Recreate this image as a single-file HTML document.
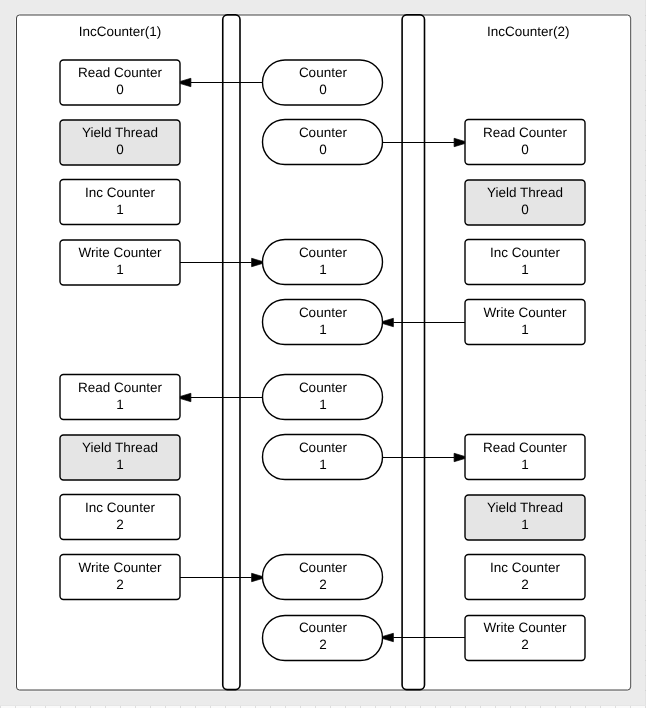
<!DOCTYPE html>
<html><head><meta charset="utf-8"><style>
html,body{margin:0;padding:0;background:#ebebeb;}
body{width:646px;height:708px;overflow:hidden;}
svg{display:block;will-change:transform;}
text{text-rendering:geometricPrecision;font-family:"Liberation Sans",sans-serif;font-size:13.5px;fill:#000000;}
</style></head><body>
<svg width="646" height="708" viewBox="0 0 646 708">
<rect x="0" y="0" width="646" height="708" fill="#ebebeb"/>
<rect x="0" y="705" width="646" height="1" fill="#e6e6e6"/><rect x="0" y="706" width="646" height="2" fill="#fafafa"/>
<path d="M0.5 706v2M15.5 706v2M30.5 706v2M45.5 706v2M60.5 706v2M75.5 706v2M90.5 706v2M105.5 706v2M120.5 706v2M135.5 706v2M150.5 706v2M165.5 706v2M180.5 706v2M195.5 706v2M210.5 706v2M225.5 706v2M240.5 706v2M255.5 706v2M270.5 706v2M285.5 706v2M300.5 706v2M315.5 706v2M330.5 706v2M345.5 706v2M360.5 706v2M375.5 706v2M390.5 706v2M405.5 706v2M420.5 706v2M435.5 706v2M450.5 706v2M465.5 706v2M480.5 706v2M495.5 706v2M510.5 706v2M525.5 706v2M540.5 706v2M555.5 706v2M570.5 706v2M585.5 706v2M600.5 706v2M615.5 706v2M630.5 706v2M645.5 706v2" stroke="#dedede" stroke-width="1"/>
<rect x="645" y="0" width="1" height="705" fill="#e3e3e3"/>
<path d="M645 15.5h1M645 30.5h1M645 45.5h1M645 60.5h1M645 75.5h1M645 90.5h1M645 105.5h1M645 120.5h1M645 135.5h1M645 150.5h1M645 165.5h1M645 180.5h1M645 195.5h1M645 210.5h1M645 225.5h1M645 240.5h1M645 255.5h1M645 270.5h1M645 285.5h1M645 300.5h1M645 315.5h1M645 330.5h1M645 345.5h1M645 360.5h1M645 375.5h1M645 390.5h1M645 405.5h1M645 420.5h1M645 435.5h1M645 450.5h1M645 465.5h1M645 480.5h1M645 495.5h1M645 510.5h1M645 525.5h1M645 540.5h1M645 555.5h1M645 570.5h1M645 585.5h1M645 600.5h1M645 615.5h1M645 630.5h1M645 645.5h1M645 660.5h1M645 675.5h1M645 690.5h1" stroke="#d2d2d2" stroke-width="1"/>
<rect x="16.5" y="15" width="614" height="675" rx="3" fill="#fff" stroke="#444" stroke-width="1"/>
<rect x="15" y="18" width="1" height="669" fill="#f4f4f4"/>
<rect x="19" y="13" width="609" height="1" fill="#f0f0f0"/>
<rect x="19" y="691" width="609" height="1" fill="#f0f0f0"/>
<rect x="630" y="18" width="1" height="669" fill="#6a6a6a"/>
<rect x="631" y="18" width="1" height="669" fill="#d2d2d2"/>
<rect x="632" y="18" width="1" height="669" fill="#eeeeee"/>
<rect x="222.75" y="14.9" width="17.25" height="674.7" rx="4.5" fill="#fff" stroke="#000" stroke-width="1.6"/>
<rect x="402.1" y="14.9" width="22.4" height="674.7" rx="4.5" fill="#fff" stroke="#000" stroke-width="1.6"/>
<text x="120.00" y="35.90" text-anchor="middle">IncCounter(1)</text>
<text x="528.30" y="35.90" text-anchor="middle">IncCounter(2)</text>
<rect x="60.0" y="60.0" width="120.0" height="45" rx="3.5" fill="#fff" stroke="#000" stroke-width="1.4"/><text x="120.00" y="76.70" text-anchor="middle">Read Counter</text><text x="120.00" y="93.80" text-anchor="middle">0</text>
<rect x="60.0" y="120.0" width="120.0" height="45" rx="3.5" fill="#e5e5e5" stroke="#000" stroke-width="1.4"/><text x="120.00" y="136.70" text-anchor="middle">Yield Thread</text><text x="120.00" y="153.80" text-anchor="middle">0</text>
<rect x="60.0" y="179.5" width="120.0" height="45" rx="3.5" fill="#fff" stroke="#000" stroke-width="1.4"/><text x="120.00" y="196.70" text-anchor="middle">Inc Counter</text><text x="120.00" y="213.80" text-anchor="middle">1</text>
<rect x="60.0" y="240.0" width="120.0" height="45" rx="3.5" fill="#fff" stroke="#000" stroke-width="1.4"/><text x="120.00" y="256.70" text-anchor="middle">Write Counter</text><text x="120.00" y="273.80" text-anchor="middle">1</text>
<rect x="60.0" y="374.5" width="120.0" height="45" rx="3.5" fill="#fff" stroke="#000" stroke-width="1.4"/><text x="120.00" y="391.70" text-anchor="middle">Read Counter</text><text x="120.00" y="408.80" text-anchor="middle">1</text>
<rect x="60.0" y="435.0" width="120.0" height="45" rx="3.5" fill="#e5e5e5" stroke="#000" stroke-width="1.4"/><text x="120.00" y="451.70" text-anchor="middle">Yield Thread</text><text x="120.00" y="468.80" text-anchor="middle">1</text>
<rect x="60.0" y="494.5" width="120.0" height="45" rx="3.5" fill="#fff" stroke="#000" stroke-width="1.4"/><text x="120.00" y="511.70" text-anchor="middle">Inc Counter</text><text x="120.00" y="528.80" text-anchor="middle">2</text>
<rect x="60.0" y="554.5" width="120.0" height="45" rx="3.5" fill="#fff" stroke="#000" stroke-width="1.4"/><text x="120.00" y="571.70" text-anchor="middle">Write Counter</text><text x="120.00" y="588.80" text-anchor="middle">2</text>
<rect x="465.0" y="119.5" width="120.0" height="45" rx="3.5" fill="#fff" stroke="#000" stroke-width="1.4"/><text x="525.00" y="136.70" text-anchor="middle">Read Counter</text><text x="525.00" y="153.80" text-anchor="middle">0</text>
<rect x="465.0" y="180.0" width="120.0" height="45" rx="3.5" fill="#e5e5e5" stroke="#000" stroke-width="1.4"/><text x="525.00" y="196.70" text-anchor="middle">Yield Thread</text><text x="525.00" y="213.80" text-anchor="middle">0</text>
<rect x="465.0" y="239.5" width="120.0" height="45" rx="3.5" fill="#fff" stroke="#000" stroke-width="1.4"/><text x="525.00" y="256.70" text-anchor="middle">Inc Counter</text><text x="525.00" y="273.80" text-anchor="middle">1</text>
<rect x="465.0" y="299.5" width="120.0" height="45" rx="3.5" fill="#fff" stroke="#000" stroke-width="1.4"/><text x="525.00" y="316.70" text-anchor="middle">Write Counter</text><text x="525.00" y="333.80" text-anchor="middle">1</text>
<rect x="465.0" y="434.5" width="120.0" height="45" rx="3.5" fill="#fff" stroke="#000" stroke-width="1.4"/><text x="525.00" y="451.70" text-anchor="middle">Read Counter</text><text x="525.00" y="468.80" text-anchor="middle">1</text>
<rect x="465.0" y="495.0" width="120.0" height="45" rx="3.5" fill="#e5e5e5" stroke="#000" stroke-width="1.4"/><text x="525.00" y="511.70" text-anchor="middle">Yield Thread</text><text x="525.00" y="528.80" text-anchor="middle">1</text>
<rect x="465.0" y="554.5" width="120.0" height="45" rx="3.5" fill="#fff" stroke="#000" stroke-width="1.4"/><text x="525.00" y="571.70" text-anchor="middle">Inc Counter</text><text x="525.00" y="588.80" text-anchor="middle">2</text>
<rect x="465.0" y="615.5" width="120.0" height="45" rx="3.5" fill="#fff" stroke="#000" stroke-width="1.4"/><text x="525.00" y="631.70" text-anchor="middle">Write Counter</text><text x="525.00" y="648.80" text-anchor="middle">2</text>
<rect x="262.5" y="60.0" width="120.0" height="45" rx="22.50" fill="#fff" stroke="#000" stroke-width="1.4"/><text x="322.90" y="76.70" text-anchor="middle">Counter</text><text x="322.90" y="93.80" text-anchor="middle">0</text>
<rect x="262.5" y="119.5" width="120.0" height="45" rx="22.50" fill="#fff" stroke="#000" stroke-width="1.4"/><text x="322.90" y="136.70" text-anchor="middle">Counter</text><text x="322.90" y="153.80" text-anchor="middle">0</text>
<rect x="262.5" y="239.5" width="120.0" height="45" rx="22.50" fill="#fff" stroke="#000" stroke-width="1.4"/><text x="322.90" y="256.70" text-anchor="middle">Counter</text><text x="322.90" y="273.80" text-anchor="middle">1</text>
<rect x="262.5" y="299.5" width="120.0" height="45" rx="22.50" fill="#fff" stroke="#000" stroke-width="1.4"/><text x="322.90" y="316.70" text-anchor="middle">Counter</text><text x="322.90" y="333.80" text-anchor="middle">1</text>
<rect x="262.5" y="374.5" width="120.0" height="45" rx="22.50" fill="#fff" stroke="#000" stroke-width="1.4"/><text x="322.90" y="391.70" text-anchor="middle">Counter</text><text x="322.90" y="408.80" text-anchor="middle">1</text>
<rect x="262.5" y="434.5" width="120.0" height="45" rx="22.50" fill="#fff" stroke="#000" stroke-width="1.4"/><text x="322.90" y="451.70" text-anchor="middle">Counter</text><text x="322.90" y="468.80" text-anchor="middle">1</text>
<rect x="262.5" y="554.5" width="120.0" height="45" rx="22.50" fill="#fff" stroke="#000" stroke-width="1.4"/><text x="322.90" y="571.70" text-anchor="middle">Counter</text><text x="322.90" y="588.80" text-anchor="middle">2</text>
<rect x="262.5" y="615.5" width="120.0" height="45" rx="22.50" fill="#fff" stroke="#000" stroke-width="1.4"/><text x="322.90" y="631.70" text-anchor="middle">Counter</text><text x="322.90" y="648.80" text-anchor="middle">2</text>
<path d="M262.5 82.50H190.90" stroke="#000" stroke-width="1.1" fill="none"/>
<path d="M180.40 81.40L190.90 78.30L190.90 86.70L180.40 83.60Z" fill="#000" stroke="#000" stroke-width="0.7" stroke-linejoin="round"/>
<path d="M382.5 142.50H454.10" stroke="#000" stroke-width="1.1" fill="none"/>
<path d="M464.60 141.40L454.10 138.30L454.10 146.70L464.60 143.60Z" fill="#000" stroke="#000" stroke-width="0.7" stroke-linejoin="round"/>
<path d="M180.0 262.50H251.60" stroke="#000" stroke-width="1.1" fill="none"/>
<path d="M262.10 261.40L251.60 258.30L251.60 266.70L262.10 263.60Z" fill="#000" stroke="#000" stroke-width="0.7" stroke-linejoin="round"/>
<path d="M465.0 322.50H393.40" stroke="#000" stroke-width="1.1" fill="none"/>
<path d="M382.90 321.40L393.40 318.30L393.40 326.70L382.90 323.60Z" fill="#000" stroke="#000" stroke-width="0.7" stroke-linejoin="round"/>
<path d="M262.5 397.50H190.90" stroke="#000" stroke-width="1.1" fill="none"/>
<path d="M180.40 396.40L190.90 393.30L190.90 401.70L180.40 398.60Z" fill="#000" stroke="#000" stroke-width="0.7" stroke-linejoin="round"/>
<path d="M382.5 457.50H454.10" stroke="#000" stroke-width="1.1" fill="none"/>
<path d="M464.60 456.40L454.10 453.30L454.10 461.70L464.60 458.60Z" fill="#000" stroke="#000" stroke-width="0.7" stroke-linejoin="round"/>
<path d="M180.0 577.50H251.60" stroke="#000" stroke-width="1.1" fill="none"/>
<path d="M262.10 576.40L251.60 573.30L251.60 581.70L262.10 578.60Z" fill="#000" stroke="#000" stroke-width="0.7" stroke-linejoin="round"/>
<path d="M465.0 637.50H393.40" stroke="#000" stroke-width="1.1" fill="none"/>
<path d="M382.90 636.40L393.40 633.30L393.40 641.70L382.90 638.60Z" fill="#000" stroke="#000" stroke-width="0.7" stroke-linejoin="round"/>
</svg></body></html>
